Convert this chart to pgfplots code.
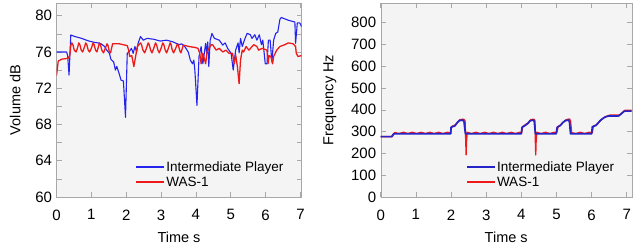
\documentclass[border=0pt]{standalone}
\usepackage{pgfplots}
\pgfplotsset{compat=1.18}
\usepackage{fontspec}
\setmainfont{Liberation Sans}
\definecolor{bgc}{HTML}{F4F4F4}
\definecolor{frc}{HTML}{A8A8A8}
\definecolor{lblue}{HTML}{2424EE}
\definecolor{lred}{HTML}{EE1A1A}
\definecolor{rblue}{HTML}{2424C8}
\newcommand{\legline}[2]{\node[inner sep=0pt, outer sep=0pt, anchor=west] at (0pt,0pt) {\textcolor{#1}{\rule[-0.5\dimexpr#2\relax]{28pt}{#2}}\hspace{4pt}};}
\pgfplotsset{
  common/.style={
    scale only axis,
    axis background/.style={fill=bgc},
    axis line style={draw=frc},
    tick style={draw=frc, line width=0.6pt},
    major tick length=5pt, minor tick length=5pt,
    tick align=inside, tick pos=both,
    /pgf/number format/assume math mode=true,
    tick label style={font=\fontsize{15}{18}\selectfont},
    label style={font=\fontsize{14.5}{17}\selectfont},
    xticklabel shift=9pt, yticklabel shift=1pt,
    ylabel shift=8pt, xlabel shift=5pt,
    xtick={0,1,...,7},
    xlabel={Time s},
    legend style={draw=none, fill=none, font=\fontsize{13.5}{16}\selectfont,
      anchor=south west, row sep=0pt, inner sep=0pt},
    legend cell align=left,
  }
}
\begin{document}
\begin{tikzpicture}
\path[use as bounding box] (0pt,0pt) rectangle (639pt,249pt);
\begin{axis}[common,
  at={(56.5pt,52pt)}, anchor=south west,
  width=245pt, height=194pt,
  xmin=0, xmax=7.03, ymin=60, ymax=81.4,
  ytick={60,64,...,80}, minor ytick={62,66,...,78},
  ylabel={Volume dB},
  legend style={at={(rel axis cs:0.325,0.035)}},
]
\addplot[color=lblue, line width=1.1pt, line join=round,
  legend image code/.code={\legline{lblue}{1.4pt}}] coordinates {
(0,76.0) (0.29,76.0) (0.32,75.6) (0.36,73.45) (0.41,77.87) (0.53,77.7) (0.72,77.5) (0.90,77.24) (1.09,77.05) (1.19,77.0) (1.28,76.9) (1.38,76.6) (1.44,76.2) (1.52,75.85) (1.56,75.2) (1.64,74.9) (1.69,74.0) (1.73,74.4) (1.80,73.6) (1.85,72.9) (1.92,72.8) (1.98,68.8) (2.03,75.85) (2.08,76.0) (2.15,76.4) (2.20,75.85) (2.25,76.6) (2.30,76.0) (2.34,76.95) (2.41,77.7) (2.49,77.3) (2.60,77.5) (2.79,77.4) (2.98,77.2) (3.16,77.3) (3.35,77.1) (3.52,76.8) (3.59,76.9) (3.68,76.6) (3.78,76.0) (3.84,75.1) (3.90,74.7) (3.94,75.1) (3.97,74.0) (4.03,70.1) (4.09,75.5) (4.15,76.6) (4.20,74.7) (4.28,76.95) (4.31,75.85) (4.34,77.1) (4.37,74.4) (4.41,77.3) (4.46,78.05) (4.53,77.5) (4.67,77.3) (4.77,76.76) (4.84,77.0) (4.91,76.4) (5.01,75.85) (5.07,74.0) (5.14,76.2) (5.21,77.0) (5.24,75.9) (5.28,77.5) (5.33,76.6) (5.41,77.5) (5.47,78.05) (5.56,77.9) (5.61,77.5) (5.69,77.9) (5.75,77.3) (5.82,77.9) (5.88,76.8) (5.92,77.3) (5.99,74.7) (6.04,74.7) (6.08,77.3) (6.13,77.3) (6.18,74.9) (6.23,77.3) (6.29,78.05) (6.35,78.2) (6.41,79.6) (6.45,79.8) (6.65,79.5) (6.84,79.3) (6.86,76.95) (6.91,79.2) (6.98,79.2) (7.03,78.8)
};
\addlegendentry{Intermediate Player}
\addplot[color=lred, line width=1.3pt, line join=round,
  legend image code/.code={\legline{lred}{1.6pt}}] coordinates {
(0,73.4) (0.05,75.0) (0.15,75.2) (0.33,75.3) (0.38,75.6) (0.41,76.7) (0.44,77.0) (0.47,76.8) (0.51,76.2) (0.56,76.0) (0.60,76.4) (0.64,77.0) (0.67,76.8) (0.71,76.2) (0.75,76.0) (0.79,76.4) (0.84,77.0) (0.87,76.8) (0.91,76.2) (0.95,76.0) (1.00,76.4) (1.05,77.0) (1.08,76.8) (1.12,76.2) (1.16,76.0) (1.19,76.4) (1.23,77.0) (1.26,76.8) (1.30,76.2) (1.35,75.9) (1.40,76.4) (1.45,76.9) (1.48,76.7) (1.51,76.1) (1.55,75.9) (1.58,76.4) (1.61,76.9) (1.80,76.9) (2.03,76.7) (2.07,76.2) (2.10,75.5) (2.16,75.6) (2.22,74.4) (2.27,75.5) (2.32,76.6) (2.41,77.0) (2.44,76.8) (2.48,76.2) (2.53,75.9) (2.58,76.4) (2.63,77.0) (2.66,76.8) (2.70,76.2) (2.74,75.9) (2.79,76.4) (2.84,77.0) (2.87,76.8) (2.91,76.2) (2.95,75.9) (3.00,76.4) (3.05,77.0) (3.08,76.8) (3.12,76.2) (3.16,75.9) (3.21,76.4) (3.26,77.0) (3.29,76.8) (3.32,76.2) (3.36,75.9) (3.42,76.4) (3.47,76.9) (3.50,76.7) (3.54,76.1) (3.57,75.9) (3.64,76.76) (3.80,76.6) (3.97,76.5) (4.06,76.4) (4.11,75.85) (4.15,74.7) (4.20,75.85) (4.28,74.7) (4.32,76.0) (4.44,76.8) (4.48,76.8) (4.58,76.2) (4.67,76.4) (4.77,76.0) (4.86,76.2) (4.95,75.85) (5.05,75.85) (5.10,74.7) (5.14,75.7) (5.19,74.4) (5.24,72.5) (5.28,75.1) (5.33,76.2) (5.37,76.0) (5.44,76.6) (5.52,76.2) (5.66,76.8) (5.75,76.6) (5.80,76.2) (5.90,76.4) (6.04,76.2) (6.07,74.7) (6.10,75.6) (6.15,75.5) (6.20,74.7) (6.23,75.5) (6.32,76.2) (6.41,76.6) (6.55,76.8) (6.65,77.0) (6.79,76.9) (6.86,76.6) (6.88,75.85) (6.93,75.5) (7.03,75.6)
};
\addlegendentry{WAS-1}
\end{axis}
\begin{axis}[common,
  at={(380.7pt,52pt)}, anchor=south west,
  width=251pt, height=194pt,
  xmin=0, xmax=7.14, ymin=0, ymax=890,
  ytick={0,100,...,800},
  ylabel={Frequency Hz},
  reverse legend,
  legend style={at={(rel axis cs:0.343,0.035)}},
]
\addplot[color=lred, line width=1.3pt, line join=round,
  legend image code/.code={\legline{lred}{1.5pt}}] coordinates {
(0,277) (0.33,277) (0.40,296)
(0.52,291) (0.65,297) (0.77,291) (0.90,297) (1.02,291) (1.15,297) (1.27,291) (1.40,297) (1.52,291) (1.65,297) (1.77,291) (1.90,297) (1.99,294)
(2.02,324) (2.13,331) (2.19,343) (2.25,355) (2.36,357) (2.40,349) (2.42,250) (2.43,193) (2.44,250) (2.46,297)
(2.58,291) (2.71,297) (2.83,291) (2.96,297) (3.08,291) (3.21,297) (3.33,291) (3.46,297) (3.58,291) (3.71,297) (3.83,291) (3.96,297) (4.01,295)
(4.04,324) (4.11,331) (4.21,343) (4.27,355) (4.36,357) (4.39,349) (4.40,250) (4.41,193) (4.42,250) (4.44,297)
(4.56,291) (4.69,297) (4.81,291) (4.94,297) (5.01,295)
(5.05,324) (5.14,333) (5.20,345) (5.28,355) (5.37,358) (5.40,350) (5.43,295)
(5.55,291) (5.68,297) (5.80,291) (5.93,297) (6.02,295)
(6.05,326) (6.15,332) (6.22,345) (6.29,357) (6.40,369) (6.52,376) (6.79,376) (6.88,388) (6.95,398) (7.14,398)
};
\addlegendentry{WAS-1}
\addplot[color=rblue, line width=1.7pt, line join=round,
  legend image code/.code={\legline{rblue}{2.2pt}}] coordinates {
(0,277) (0.31,277) (0.37,290) (1.99,290) (2.00,320) (2.11,326) (2.16,338) (2.23,350) (2.34,353) (2.37,345) (2.41,290) (4.00,290) (4.02,320) (4.09,326) (4.19,338) (4.25,350) (4.34,353) (4.37,345) (4.40,290) (4.99,290) (5.02,320) (5.11,328) (5.17,340) (5.25,350) (5.34,353) (5.37,345) (5.40,290) (6.00,290) (6.02,322) (6.12,328) (6.19,341) (6.26,353) (6.37,366) (6.49,372) (6.77,372) (6.86,384) (6.93,394) (7.14,394)
};
\addlegendentry{Intermediate Player}
\end{axis}
\end{tikzpicture}
\end{document}
